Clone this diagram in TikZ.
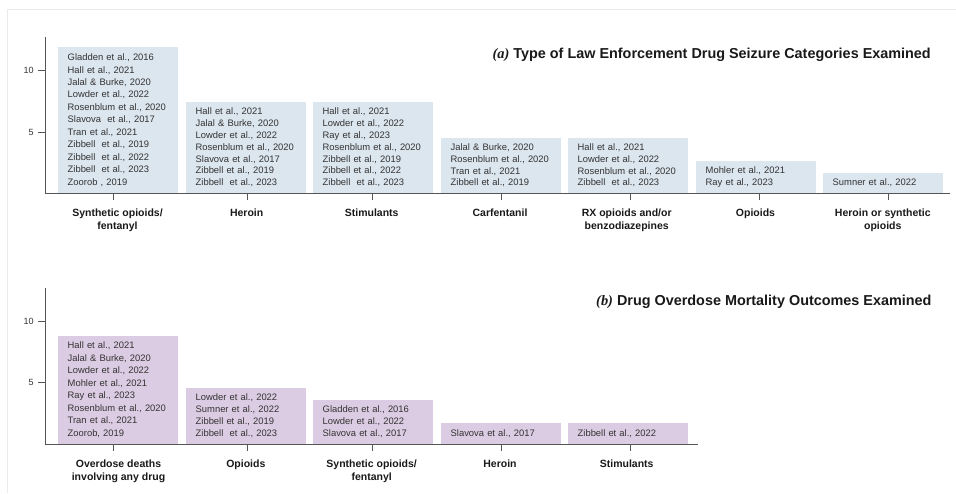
\documentclass[tikz,border=0pt]{standalone}
\usepackage{fontspec}
\setmainfont{Liberation Sans}
\newfontfamily\tnr{Liberation Serif}
\definecolor{barblue}{HTML}{DCE6EF}
\definecolor{barpink}{HTML}{DCCCE3}
\definecolor{txtgray}{HTML}{333333}
\definecolor{axisgray}{HTML}{555555}
\definecolor{framegray}{HTML}{EBEBEB}
\tikzset{
  barA/.style={fill=barblue, anchor=south west, inner xsep=9.5pt, inner ysep=0pt,
    text width=101pt, align=left, minimum width=120pt, text=txtgray,
    font=\fontsize{9.4}{11.8}\selectfont},
  barB/.style={barA, fill=barpink},
  tallbar/.style={font=\fontsize{9.4}{12.45}\selectfont},
  catlabel/.style={font=\fontsize{10.5}{12.7}\selectfont\bfseries, align=center,
    anchor=north, inner sep=0pt, text=black!90},
  axisline/.style={draw=axisgray, line width=0.9pt},
  tickline/.style={draw=axisgray, line width=0.8pt},
  ylabel/.style={font=\fontsize{9}{11}\selectfont, anchor=east, inner sep=0pt, text=txtgray},
  paneltitle/.style={font=\fontsize{14.4}{16}\selectfont\bfseries, anchor=east, inner sep=0pt, text=black!90},
}
\begin{document}
\begin{tikzpicture}[x=1pt,y=-1pt]
\useasboundingbox (0,0) rectangle (956,493);
% faint frame
\draw[framegray, line width=0.8pt] (7,493) -- (7,9) -- (956,9);

% ================= panel (a) =================
\coordinate (ay0) at (45,193.5);
\coordinate (aytop) at (45,37);
\coordinate (axend) at (950,193.5);
\draw[axisline] (aytop) -- (ay0) -- (axend);
\coordinate (a10) at (45,70);
\coordinate (a5) at (45,132);
\draw[tickline] (a10) -- ++(-7,0) node[ylabel, xshift=-4pt] (a10l) {10};
\draw[tickline] (a5) -- ++(-7,0) node[ylabel, xshift=-4pt] (a5l) {5};

\node[paneltitle] (atitle) at (931,55) {{\tnr\itshape (a)} Type of Law Enforcement Drug Seizure Categories Examined};

\node[barA, tallbar, minimum height=146.5pt] (a1) at (58,193.5) {Gladden et al., 2016\\Hall et al., 2021\\Jalal \& Burke, 2020\\Lowder  et al., 2022\\Rosenblum et al., 2020\\Slavova~ et al., 2017\\Tran et al., 2021\\Zibbell~ et al., 2019\\Zibbell~ et al., 2022\\Zibbell~ et al., 2023\\Zoorob , 2019};
\node[barA, minimum height=91.5pt] (a2) at (186,193.5) {Hall et al., 2021\\Jalal \& Burke, 2020\\Lowder et al., 2022\\Rosenblum et al., 2020\\Slavova et al., 2017\\Zibbell et al., 2019\\Zibbell~ et al., 2023};
\node[barA, minimum height=91.5pt] (a3) at (313,193.5) {Hall et al., 2021\\Lowder et al., 2022\\Ray et al., 2023\\Rosenblum et al., 2020\\Zibbell et al., 2019\\Zibbell et al., 2022\\Zibbell~ et al., 2023};
\node[barA, minimum height=55.8pt] (a4) at (441,193.5) {Jalal \& Burke, 2020\\Rosenblum et al., 2020\\Tran et al., 2021\\Zibbell et al., 2019};
\node[barA, minimum height=55.8pt] (a5b) at (568,193.5) {Hall et al., 2021\\Lowder et al., 2022\\Rosenblum et al., 2020\\Zibbell~ et al., 2023};
\node[barA, minimum height=32.5pt] (a6) at (696,193.5) {Mohler et al., 2021\\Ray et al., 2023};
\node[barA, minimum height=20.8pt] (a7) at (823,193.5) {Sumner et al., 2022};

% ticks and category labels (a)
\foreach \tx/\nm in {113/t1,247.7/t2,372.7/t3,501.7/t4,630/t5,759/t6,888/t7}{
  \coordinate (a\nm) at (\tx,193.5);
  \coordinate (a\nm e) at (\tx,200);
  \draw[tickline] (a\nm) -- (a\nm e);
}
\node[catlabel] (ac1) at (117.5,209) {Synthetic opioids/\\fentanyl};
\node[catlabel] (ac2) at (246.7,209) {Heroin};
\node[catlabel] (ac3) at (371.7,209) {Stimulants};
\node[catlabel] (ac4) at (500,209) {Carfentanil};
\node[catlabel] (ac5) at (626.7,209) {RX opioids and/or\\benzodiazepines};
\node[catlabel] (ac6) at (755.5,209) {Opioids};
\node[catlabel] (ac7) at (882.8,209) {Heroin or synthetic\\opioids};

% ================= panel (b) =================
\coordinate (by0) at (45,444);
\coordinate (bytop) at (45,288);
\coordinate (bxend) at (698,444);
\draw[axisline] (bytop) -- (by0) -- (bxend);
\coordinate (b10) at (45,321);
\coordinate (b5) at (45,382.7);
\draw[tickline] (b10) -- ++(-7,0) node[ylabel, xshift=-4pt] (b10l) {10};
\draw[tickline] (b5) -- ++(-7,0) node[ylabel, xshift=-4pt] (b5l) {5};

\node[paneltitle] (btitle) at (931.7,302.3) {{\tnr\itshape (b)} Drug Overdose Mortality Outcomes Examined};

\node[barB, tallbar, minimum height=108.3pt] (b1) at (58,444) {Hall et al., 2021\\Jalal \& Burke, 2020\\Lowder et al., 2022\\Mohler et al., 2021\\Ray et al., 2023\\Rosenblum et al., 2020\\Tran et al., 2021\\Zoorob, 2019};
\node[barB, minimum height=56.3pt] (b2) at (186,444) {Lowder et al., 2022\\Sumner et al., 2022\\Zibbell et al., 2019\\Zibbell~ et al., 2023};
\node[barB, minimum height=44pt] (b3) at (313,444) {Gladden et al., 2016\\Lowder et al., 2022\\Slavova et al., 2017};
\node[barB, minimum height=20.7pt] (b4) at (441,444) {Slavova et al., 2017};
\node[barB, minimum height=20.7pt] (b5b) at (568,444) {Zibbell et al., 2022};

\foreach \tx/\nm in {113/t1,247.7/t2,372.7/t3,501.7/t4,630/t5}{
  \coordinate (b\nm) at (\tx,444);
  \coordinate (b\nm e) at (\tx,451);
  \draw[tickline] (b\nm) -- (b\nm e);
}
\node[catlabel] (bc1) at (118.5,459.5) {Overdose deaths\\involving any drug};
\node[catlabel] (bc2) at (245.8,459.5) {Opioids};
\node[catlabel] (bc3) at (371.7,459.5) {Synthetic opioids/\\fentanyl};
\node[catlabel] (bc4) at (500,459.5) {Heroin};
\node[catlabel] (bc5) at (626.7,459.5) {Stimulants};
\end{tikzpicture}
\end{document}
